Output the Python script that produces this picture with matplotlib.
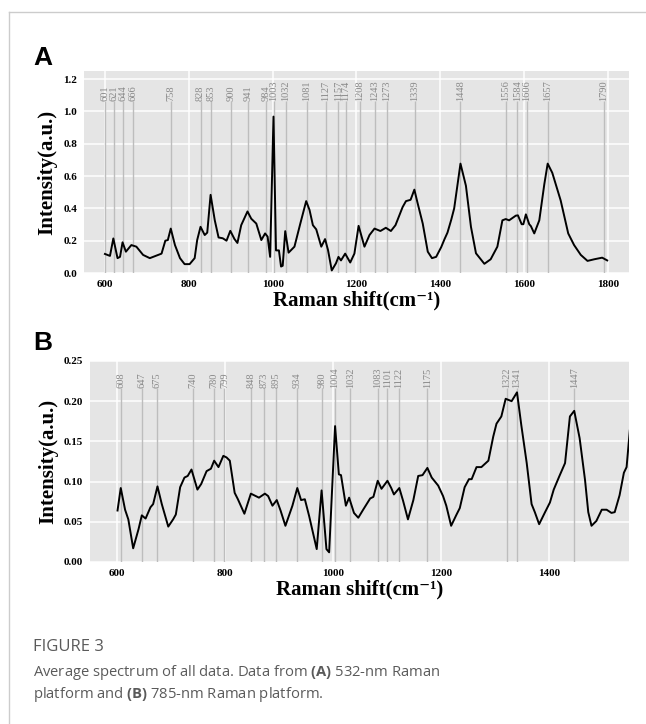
import numpy as np
import matplotlib
matplotlib.use("Agg")
import matplotlib.pyplot as plt
from matplotlib.lines import Line2D

# Espectro medio, plataforma 532 nm (A)
shift_a = [600, 612, 620, 630, 636, 642, 650, 663, 675, 691, 707, 727, 735, 744, 750, 757,
           767, 779, 790, 802, 814, 820, 828, 838, 844, 852, 862, 871, 881, 890, 899, 909,
           916, 925, 940, 949, 961, 973, 982, 988, 994, 1002, 1008, 1015, 1020, 1024, 1030,
           1038, 1052, 1066, 1080, 1088, 1096, 1104, 1116, 1125, 1132, 1141, 1151, 1157,
           1163, 1173, 1185, 1195, 1205, 1219, 1231, 1243, 1257, 1270, 1282, 1293, 1310,
           1318, 1329, 1338, 1346, 1358, 1370, 1380, 1390, 1402, 1410, 1417, 1426, 1433,
           1448, 1461, 1473, 1485, 1505, 1520, 1536, 1548, 1556, 1564, 1580, 1585, 1594,
           1598, 1604, 1612, 1616, 1624, 1636, 1648, 1656, 1667, 1687, 1705, 1719, 1735,
           1751, 1767, 1786, 1798]
inten_a = [0.118, 0.106, 0.214, 0.092, 0.100, 0.190, 0.132, 0.173, 0.163, 0.112, 0.092,
           0.112, 0.120, 0.200, 0.204, 0.275, 0.173, 0.092, 0.055, 0.055, 0.092, 0.204,
           0.286, 0.235, 0.250, 0.484, 0.326, 0.220, 0.215, 0.200, 0.261, 0.210, 0.186,
           0.296, 0.381, 0.336, 0.306, 0.204, 0.245, 0.225, 0.100, 0.968, 0.140, 0.140,
           0.040, 0.045, 0.259, 0.126, 0.163, 0.306, 0.445, 0.390, 0.296, 0.270, 0.163,
           0.210, 0.143, 0.016, 0.060, 0.100, 0.078, 0.120, 0.065, 0.120, 0.292, 0.163,
           0.235, 0.275, 0.260, 0.280, 0.260, 0.296, 0.408, 0.445, 0.453, 0.516, 0.430,
           0.306, 0.132, 0.092, 0.100, 0.160, 0.210, 0.250, 0.330, 0.400, 0.677, 0.540,
           0.286, 0.122, 0.057, 0.085, 0.163, 0.326, 0.334, 0.326, 0.355, 0.357, 0.302,
           0.302, 0.363, 0.302, 0.290, 0.245, 0.326, 0.550, 0.677, 0.620, 0.449, 0.245,
           0.173, 0.112, 0.075, 0.085, 0.095, 0.078]
peaks_a = [601, 621, 644, 666, 758, 828, 853, 900, 941, 984, 1003, 1032, 1081, 1127, 1157,
           1174, 1208, 1243, 1273, 1339, 1448, 1556, 1584, 1606, 1657, 1790]

# Espectro medio, plataforma 785 nm (B)
shift_b = [601, 607, 615, 621, 630, 640, 646, 653, 662, 667, 675, 683, 695, 704, 709, 717,
           725, 731, 738, 749, 756, 766, 774, 780, 788, 797, 803, 809, 818, 824, 836, 848,
           854, 863, 874, 880, 888, 896, 903, 912, 925, 934, 941, 948, 956, 970, 979, 988,
           993, 1004, 1011, 1015, 1024, 1030, 1039, 1047, 1056, 1069, 1075, 1083, 1090,
           1101, 1108, 1113, 1123, 1130, 1139, 1149, 1158, 1166, 1175, 1183, 1195, 1204,
           1210, 1219, 1229, 1235, 1244, 1252, 1257, 1266, 1275, 1288, 1297, 1303, 1312,
           1320, 1331, 1341, 1349, 1359, 1368, 1374, 1382, 1393, 1402, 1409, 1419, 1430,
           1439, 1447, 1457, 1467, 1473, 1479, 1488, 1498, 1507, 1516, 1522, 1531, 1539,
           1544, 1550, 1560]
inten_b = [0.064, 0.092, 0.065, 0.053, 0.017, 0.041, 0.058, 0.054, 0.068, 0.072, 0.094,
           0.072, 0.044, 0.053, 0.059, 0.093, 0.105, 0.107, 0.115, 0.090, 0.097, 0.113,
           0.116, 0.126, 0.118, 0.132, 0.130, 0.126, 0.086, 0.078, 0.060, 0.085, 0.083,
           0.080, 0.085, 0.082, 0.070, 0.077, 0.064, 0.045, 0.070, 0.092, 0.077, 0.078,
           0.057, 0.016, 0.089, 0.016, 0.012, 0.169, 0.109, 0.108, 0.070, 0.080, 0.061,
           0.055, 0.065, 0.079, 0.081, 0.101, 0.091, 0.101, 0.092, 0.084, 0.092, 0.076,
           0.053, 0.077, 0.107, 0.108, 0.117, 0.105, 0.095, 0.082, 0.070, 0.045, 0.059,
           0.067, 0.093, 0.103, 0.103, 0.118, 0.118, 0.126, 0.156, 0.172, 0.181, 0.203,
           0.200, 0.211, 0.170, 0.123, 0.072, 0.062, 0.047, 0.062, 0.074, 0.090, 0.106,
           0.123, 0.181, 0.188, 0.154, 0.102, 0.062, 0.045, 0.051, 0.065, 0.065, 0.061,
           0.062, 0.083, 0.111, 0.118, 0.164, 0.210]
peaks_b = [608, 647, 675, 740, 780, 799, 848, 873, 895, 934, 980, 1004, 1032, 1083, 1101,
           1122, 1175, 1322, 1341, 1447]

serif = ["Liberation Serif", "DejaVu Serif"]
plt.rcParams["mathtext.fontset"] = "custom"
plt.rcParams["mathtext.bf"] = "Open Sans:bold"
plt.rcParams["mathtext.rm"] = "Open Sans"


def draw_panel(ax, x, y, peaks, xlim, ylim, yticks, fmt, line_top):
    ax.set_facecolor("#e5e5e5")
    for s in ax.spines.values():
        s.set_visible(False)
    ax.set_xlim(*xlim)
    ax.set_ylim(*ylim)
    ax.set_xticks([t for t in range(600, 1801, 200) if xlim[0] <= t <= xlim[1]])
    ax.set_yticks(yticks)
    ax.set_yticklabels([fmt.format(t) for t in yticks])
    ax.grid(True, color="white", lw=1.1)
    ax.set_axisbelow(True)
    ax.tick_params(length=0, pad=5)
    for lab in ax.get_xticklabels() + ax.get_yticklabels():
        lab.set_fontfamily(serif)
        lab.set_fontweight("bold")
        lab.set_fontsize(8)
    # lineas de picos
    ax.vlines(peaks, ylim[0], line_top, color="#bdbdbd", lw=1.0, zorder=1)
    for p in peaks:
        ax.text(p, line_top, str(p), rotation=90, ha="center", va="bottom",
                fontsize=7.5, color="#888888", family=serif, zorder=2)
    ax.plot(x, y, color="black", lw=1.4, zorder=3)
    ax.set_xlabel("Raman shift(cm⁻¹)", family=serif, fontweight="bold", fontsize=15, labelpad=1)
    ax.set_ylabel("Intensity(a.u.)", family=serif, fontweight="bold", fontsize=15, labelpad=4)


fig = plt.figure(figsize=(6.46, 7.24), dpi=100)

ax1 = fig.add_axes([0.130, 0.6229, 0.8437, 0.279])
draw_panel(ax1, shift_a, inten_a, peaks_a, (550, 1850), (0, 1.25),
           [0.0, 0.2, 0.4, 0.6, 0.8, 1.0, 1.2], "{:.1f}", 1.062)

ax2 = fig.add_axes([0.1393, 0.2238, 0.834, 0.2776])
draw_panel(ax2, shift_b, inten_b, peaks_b, (550, 1548), (0, 0.25),
           [0.0, 0.05, 0.10, 0.15, 0.20, 0.25], "{:.2f}", 0.217)

panel_font = ["Liberation Sans", "DejaVu Sans"]
fig.text(33 / 646, 1 - 65 / 724, "A", fontsize=19, fontweight="bold", family=panel_font,
         ha="left", va="baseline")
fig.text(33 / 646, 1 - 350 / 724, "B", fontsize=19, fontweight="bold", family=panel_font,
         ha="left", va="baseline")

# marco de la pagina
fig.add_artist(Line2D([9 / 646, 1], [1 - 12 / 724, 1 - 12 / 724], color="#cccccc", lw=1))
fig.add_artist(Line2D([9 / 646, 9 / 646], [0, 1 - 12 / 724], color="#cccccc", lw=1))

cap_font = ["Open Sans", "DejaVu Sans"]
fig.text(33 / 646, 1 - 647 / 724, "FIGURE 3", fontsize=12, color="#5a5a5a",
         family=cap_font, va="center")
fig.text(33 / 646, 1 - 672 / 724,
         "Average spectrum of all data. Data from $\\mathbf{(A)}$ 532-nm Raman",
         fontsize=10.6, color="#5a5a5a", family=cap_font, va="center")
fig.text(33 / 646, 1 - 695 / 724, "platform and $\\mathbf{(B)}$ 785-nm Raman platform.",
         fontsize=10.6, color="#5a5a5a", family=cap_font, va="center")

fig.savefig("out.png", dpi=100)
